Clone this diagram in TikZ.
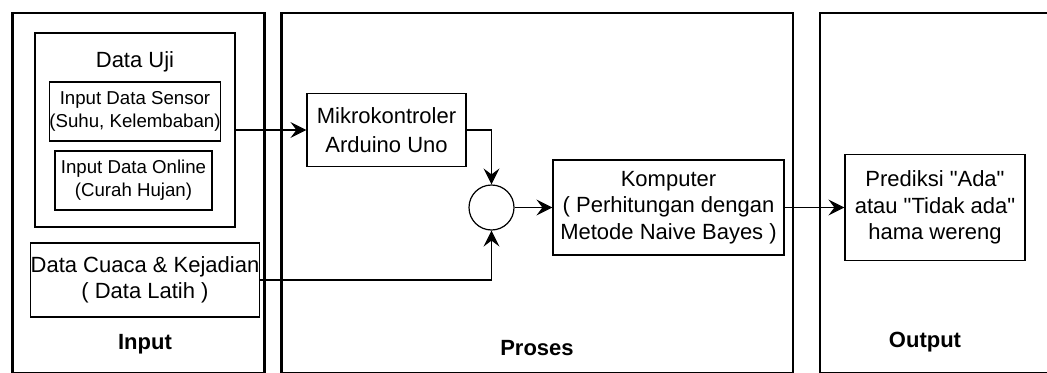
\documentclass[tikz,border=0pt]{standalone}
\usepackage{fontspec}
\setmainfont{Liberation Sans}[Ligatures=TeXOff]
\usetikzlibrary{arrows.meta}
\begin{document}
\begin{tikzpicture}[x=0.75pt,y=-0.75pt,
  panel/.style={draw=black,line width=2.2pt},
  box/.style={draw=black,line width=0.9pt,inner sep=0pt,align=center,font=\fontsize{16.5}{19.9}\selectfont},
  smallbox/.style={box,font=\fontsize{14}{17.5}\selectfont},
  title/.style={inner sep=0pt,font=\bfseries\fontsize{16.5}{19.9}\selectfont},
  conn/.style={draw=black,line width=0.8pt,-{Stealth[length=12pt,width=12pt,inset=4.5pt]}},
  plain/.style={draw=black,line width=0.8pt}]
\useasboundingbox (0,0) rectangle (1047,372);
\clip (0,0) rectangle (1047,372);
% panels
\draw[panel] (12.5,13) rectangle (264.5,373);
\draw[panel] (281.5,13) rectangle (793,373);
\draw[panel] (820,13) rectangle (1055,373);
\node[title] (lin) at (145,344) {Input};
\node[title] (lpr) at (537,348) {Proses};
\node[title] (lout) at (925,342) {Output};
% input boxes
\node[box,minimum width=200*0.75pt,minimum height=194*0.75pt] (datauji) at (135,130) {};
\node[inner sep=0pt,font=\fontsize{16.5}{19.9}\selectfont] (ujititle) at (135,62) {Data Uji};
\node[smallbox,minimum width=170*0.75pt,minimum height=59*0.75pt] (sensor) at (135,111.5) {Input Data Sensor\\(Suhu, Kelembaban)};
\node[smallbox,minimum width=157*0.75pt,minimum height=59*0.75pt] (online) at (133.5,180.5) {Input Data Online\\(Curah Hujan)};
\node[box,minimum width=220*0.75pt,minimum height=74*0.75pt,font=\fontsize{16.5}{19.3}\selectfont] (cuaca) at (145,280) {Data Cuaca \& Kejadian\\( Data Latih )};
% process
\node[box,minimum width=159*0.75pt,minimum height=73*0.75pt,font=\fontsize{16.5}{21.75}\selectfont] (mikro) at (386.5,130) {Mikrokontroler\\Arduino Uno};
\node[draw=black,line width=0.9pt,circle,minimum size=45*0.75pt,inner sep=0pt] (circ) at (491.5,207.5) {};
\node[box,minimum width=231*0.75pt,minimum height=95*0.75pt] (komp) at (668.5,207.5) {Komputer\\( Perhitungan dengan\\Metode Naive Bayes )};
% output
\node[box,minimum width=180*0.75pt,minimum height=106*0.75pt] (pred) at (935,207.5) {Prediksi "Ada"\\atau "Tidak ada"\\hama wereng};
% connectors
\draw[conn] (datauji.east) -- (mikro.west);
\draw[conn] (mikro.east) -| (circ.north);
\draw[conn] (cuaca.east) -| (circ.south);
\draw[conn] (circ.east) -- (komp.west);
\draw[conn] (komp.east) -- (pred.west);
\end{tikzpicture}
\end{document}
